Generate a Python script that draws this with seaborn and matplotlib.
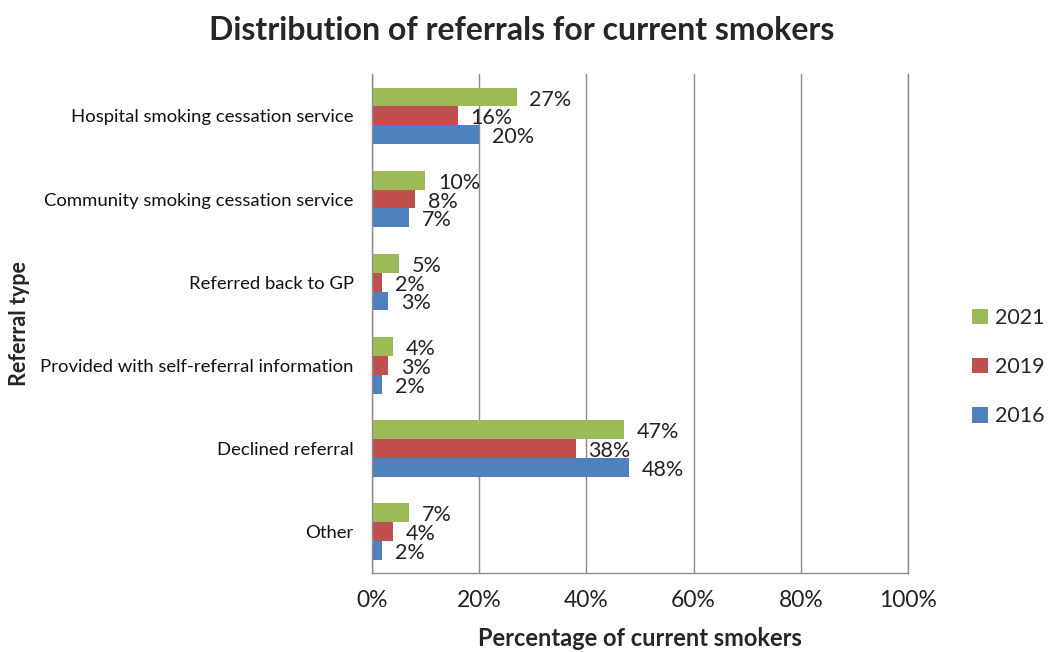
import matplotlib
matplotlib.use("Agg")
import matplotlib.pyplot as plt
import pandas as pd
import seaborn as sns
from matplotlib.ticker import PercentFormatter

categories = ["Hospital smoking cessation service", "Community smoking cessation service",
              "Referred back to GP", "Provided with self-referral information",
              "Declined referral", "Other"]
years = ["2021", "2019", "2016"]
vals_2021 = [27, 10, 5, 4, 47, 7]
vals_2019 = [16, 8, 2, 3, 38, 4]
vals_2016 = [20, 7, 3, 2, 48, 2]
colors = ["#9BBB59", "#C0504D", "#4F81BD"]

sns.set_style("white")
plt.rcParams['font.family'] = ['Lato', 'DejaVu Sans']

df = pd.DataFrame({
    "Referral": categories * 3,
    "Year": ["2021"] * 6 + ["2019"] * 6 + ["2016"] * 6,
    "Pct": vals_2021 + vals_2019 + vals_2016,
})

fig = plt.figure(figsize=(10.5, 6.52), dpi=100)
ax = fig.add_axes([0.354, 0.121, 0.511, 0.765])
sns.barplot(data=df, y="Referral", x="Pct", hue="Year", hue_order=years,
            order=categories, palette=colors, orient="h", width=0.68,
            saturation=1, linewidth=0, ax=ax, legend=True)

# value labels just past the end of each bar
for cont in ax.containers:
    for rect in cont:
        w = rect.get_width()
        ax.text(w + 2.4, rect.get_y() + rect.get_height() / 2 + 0.03, f"{w:.0f}%",
                va="center", ha="left", fontsize=15.5, color="#222222")

ax.set_xlim(0, 100)
ax.set_xticks([0, 20, 40, 60, 80, 100])
ax.xaxis.set_major_formatter(PercentFormatter(decimals=0))
ax.grid(axis="x", color="#8c8c8c", linewidth=1)
ax.set_axisbelow(True)
ax.spines["top"].set_visible(False)
for s in ["left", "bottom", "right"]:
    ax.spines[s].set_color("#8c8c8c")
    ax.spines[s].set_linewidth(1)
ax.tick_params(axis="x", labelsize=16.5, pad=12, length=0, labelcolor="#222222")
ax.tick_params(axis="y", labelsize=13.3, pad=13, length=0, labelcolor="#111111")
ax.set_xlabel("Percentage of current smokers", fontsize=17, fontweight="bold", labelpad=12)
ax.set_ylabel("Referral type", fontsize=15.5, fontweight="bold")
ax.yaxis.set_label_coords(-0.636, 0.5)

fig.suptitle("Distribution of referrals for current smokers", fontsize=23,
             fontweight="bold", x=0.497, y=0.975)

handles, labels = ax.get_legend_handles_labels()
ax.get_legend().remove()
fig.legend(handles, labels, loc="center left", bbox_to_anchor=(0.926, 0.437),
           frameon=False, fontsize=15.5, handlelength=0.75, handleheight=0.75,
           labelspacing=1.35, handletextpad=0.3, borderpad=0, borderaxespad=0)

fig.savefig("out.png", dpi=100)
